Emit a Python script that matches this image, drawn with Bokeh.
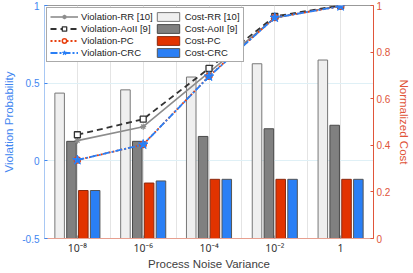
from bokeh.plotting import figure
from bokeh.models import (Range1d, LinearAxis, FixedTicker, Legend, LegendItem)
from bokeh.embed import file_html
from bokeh.resources import INLINE

# ---- data ----
x_pos = [1, 2, 3, 4, 5]
x_labels = ["10⁻⁸", "10⁻⁶", "10⁻⁴", "10⁻²", "1"]

viol_rr = [0.13, 0.22, 0.57, 0.92, 1.0]
viol_aoii = [0.168, 0.268, 0.595, 0.93, 1.0]
viol_pc = [0.005, 0.105, 0.545, 0.922, 0.995]
viol_crc = [0.005, 0.105, 0.543, 0.922, 0.995]

cost_rr = [0.624, 0.638, 0.693, 0.75, 0.766]
cost_aoii = [0.417, 0.417, 0.438, 0.471, 0.486]
cost_pc = [0.206, 0.238, 0.254, 0.254, 0.254]
cost_crc = [0.206, 0.247, 0.254, 0.254, 0.254]

FONT = "Liberation Sans"
BLUE_AX = "#3f86f0"
RED_AX = "#e0553a"

p = figure(width=413, height=273, output_backend="svg", toolbar_location=None,
           x_range=Range1d(0.5, 5.5), y_range=Range1d(-0.5, 1.0),
           min_border_left=42, min_border_right=36, min_border_top=5,
           min_border_bottom=35)
p.extra_y_ranges = {"cost": Range1d(0, 1)}
p.outline_line_color = "#999999"
p.outline_line_width = 1
p.background_fill_color = "white"

# grids
p.xgrid.ticker = FixedTicker(ticks=[1, 1.5, 2, 2.5, 3, 3.5, 4, 4.5, 5])
p.xgrid.grid_line_color = "#e4e4e4"
p.ygrid.ticker = FixedTicker(ticks=[-0.5, 0, 0.5, 1])
p.ygrid.grid_line_color = "#dff0f6"

# bars (right axis)
bw = 0.145
offs = [-0.27, -0.09, 0.09, 0.27]
bar_specs = [
    (cost_rr, "#efefef", "#777777"),
    (cost_aoii, "#808080", "#4a4a4a"),
    (cost_pc, "#e23300", "#8a2a10"),
    (cost_crc, "#2a7ff5", "#555555"),
]
bar_r = []
for (vals, fc, lc), o in zip(bar_specs, offs):
    r = p.vbar(x=[xx + o for xx in x_pos], top=vals, bottom=0, width=bw,
               fill_color=fc, line_color=lc, line_width=1, y_range_name="cost")
    bar_r.append(r)

# lines (left axis)
l_rr = p.line(x_pos, viol_rr, line_color="#8c8c8c", line_width=1.6)
m_rr = p.scatter(x_pos, viol_rr, marker="asterisk", size=6, line_color="#8c8c8c", line_width=1.2)
l_ao = p.line(x_pos, viol_aoii, line_color="#333333", line_width=1.8, line_dash="6 4")
m_ao = p.scatter(x_pos, viol_aoii, marker="square", size=6, fill_color="white",
                 line_color="#333333", line_width=1.3)
l_pc = p.line(x_pos, viol_pc, line_color="#e8400f", line_width=1.8, line_dash="2 2")
m_pc = p.scatter(x_pos, viol_pc, marker="circle", size=6, fill_color="white",
                 line_color="#e8400f", line_width=1.5)
l_crc = p.line(x_pos, viol_crc, line_color="#2a7ff5", line_width=1.8, line_dash="7 2 2 2")
m_crc = p.scatter(x_pos, viol_crc, marker="star", size=10, fill_color="#2a7ff5",
                  line_color="#2a7ff5")

# x axis
p.xaxis.ticker = FixedTicker(ticks=x_pos)
p.xaxis.major_label_overrides = {k: v for k, v in zip(x_pos, x_labels)}
p.xaxis.axis_label = "Process Noise Variance"
p.xaxis.axis_label_text_font = FONT
p.xaxis.axis_label_text_font_style = "normal"
p.xaxis.axis_label_text_font_size = "11.5px"
p.xaxis.axis_label_text_color = "#404040"
p.xaxis.axis_label_standoff = 0
p.xaxis.major_label_text_font = "Noto Sans, DejaVu Sans"
p.xaxis.major_label_text_font_size = "10.5px"
p.xaxis.major_label_text_color = "#333333"
p.xaxis.major_label_standoff = 2
p.xaxis.axis_line_color = "#e8a090"
p.xaxis.major_tick_line_color = "#999999"
p.xaxis.major_tick_in = 3
p.xaxis.major_tick_out = 0
p.xaxis.minor_tick_line_color = None

ly = p.yaxis[0]
ly.ticker = FixedTicker(ticks=[-0.5, 0, 0.5, 1])
ly.major_label_overrides = {-0.5: "-0.5", 0: "0", 0.5: "0.5", 1: "1"}
ly.axis_label = "Violation Probability"
ly.axis_label_text_font = FONT
ly.axis_label_text_font_style = "normal"
ly.axis_label_text_font_size = "11.5px"
ly.axis_label_text_color = BLUE_AX
ly.axis_label_standoff = 4
ly.major_label_text_font = FONT
ly.major_label_text_font_size = "10px"
ly.major_label_text_color = BLUE_AX
ly.major_label_standoff = 5
ly.axis_line_color = "#a8c8f4"
ly.major_tick_line_color = BLUE_AX
ly.major_tick_in = 3
ly.major_tick_out = 0
ly.minor_tick_line_color = None

ry = LinearAxis(y_range_name="cost")
ry.ticker = FixedTicker(ticks=[0, 0.2, 0.4, 0.6, 0.8, 1])
ry.major_label_overrides = {0: "0", 0.2: "0.2", 0.4: "0.4", 0.6: "0.6", 0.8: "0.8", 1: "1"}
ry.axis_label = "Normalized Cost"
ry.axis_label_text_font = FONT
ry.axis_label_text_font_style = "normal"
ry.axis_label_text_font_size = "11.5px"
ry.axis_label_text_color = RED_AX
ry.axis_label_standoff = 5
ry.major_label_text_font = FONT
ry.major_label_text_font_size = "10px"
ry.major_label_text_color = RED_AX
ry.major_label_standoff = 3
ry.axis_line_color = RED_AX
ry.major_tick_line_color = RED_AX
ry.major_tick_in = 3
ry.major_tick_out = 0
ry.minor_tick_line_color = None
p.add_layout(ry, "right")

# legend
items = [
    LegendItem(label="Violation-RR [10]", renderers=[l_rr, m_rr]),
    LegendItem(label="Violation-AoII [9]", renderers=[l_ao, m_ao]),
    LegendItem(label="Violation-PC", renderers=[l_pc, m_pc]),
    LegendItem(label="Violation-CRC", renderers=[l_crc, m_crc]),
    LegendItem(label="Cost-RR [10]", renderers=[bar_r[0]]),
    LegendItem(label="Cost-AoII [9]", renderers=[bar_r[1]]),
    LegendItem(label="Cost-PC", renderers=[bar_r[2]]),
    LegendItem(label="Cost-CRC", renderers=[bar_r[3]]),
]
legend = Legend(items=items, location="top_left", nrows=4, orientation="vertical",
                label_text_font=FONT, label_text_font_size="9.5px",
                label_text_color="#222222", glyph_width=28, glyph_height=11,
                label_height=11, label_standoff=3, spacing=1, padding=3,
                margin=2, border_line_color="#555555", border_line_width=1,
                background_fill_alpha=1.0)
p.add_layout(legend, "center")

open("out.html", "w").write(file_html(p, INLINE))
